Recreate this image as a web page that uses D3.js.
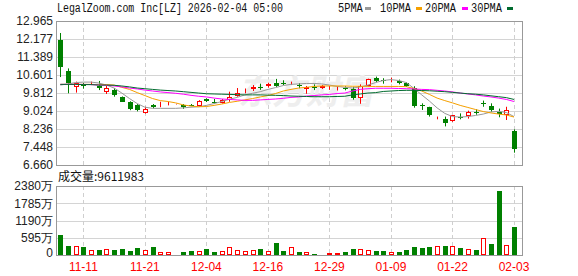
<!DOCTYPE html>
<html>
<head>
<meta charset="utf-8">
<script src="https://cdn.jsdelivr.net/npm/d3@7"></script>
<style>
  body { margin: 0; background: #fff; }
  svg { display: block; }
  .ax { font-family: "Liberation Sans", Arial, sans-serif; font-size: 12px; fill: #222; }
  .dt { font-family: "Liberation Sans", Arial, sans-serif; font-size: 12px; fill: #ff0000; }
  .mono { font-family: "Liberation Mono", monospace; font-size: 12px; fill: #111; }
</style>
</head>
<body>
<div id="chart"></div>
<script>
// --------------------------------------
//  Data
// --------------------------------------

const dates = ["11-06","11-07","11-10","11-11","11-12","11-13","11-14","11-17","11-18","11-19",
  "11-20","11-21","11-24","11-25","11-26","11-28","12-01","12-02","12-03","12-04",
  "12-05","12-08","12-09","12-10","12-11","12-12","12-15","12-16","12-17","12-18",
  "12-19","12-22","12-23","12-24","12-26","12-29","12-30","12-31","01-02","01-05",
  "01-06","01-07","01-08","01-09","01-12","01-13","01-14","01-15","01-16","01-20",
  "01-21","01-22","01-23","01-26","01-27","01-28","01-29","01-30","02-02","02-03"];

const open  = [12.13,10.78,10.06,10.16,10.19,10.12,9.87,9.94,9.65,9.42,
  9.29,8.95,9.27,9.27,9.35,9.32,9.27,9.30,9.24,9.54,
  9.43,9.39,9.51,9.68,9.90,9.99,10.09,10.11,10.24,10.24,
  10.19,10.18,9.97,10.09,10.02,9.99,10.02,10.05,10.00,9.58,
  10.12,10.48,10.38,10.38,10.34,10.24,10.05,9.27,9.20,8.675,
  8.67,8.57,8.78,8.81,8.98,9.36,9.26,8.98,8.86,8.16];
const close = [10.95,10.26,10.24,10.12,10.27,10.02,10.05,9.73,9.43,9.11,
  9.07,9.11,9.19,9.33,9.36,9.33,9.19,9.27,9.48,9.45,
  9.42,9.49,9.62,9.80,9.91,10.09,10.08,10.19,10.13,10.19,
  10.24,10.16,10.08,10.08,10.11,10.05,10.06,9.97,9.58,10.13,
  10.43,10.34,10.37,10.40,10.24,10.13,9.23,9.26,8.85,8.69,
  8.49,8.84,8.72,8.98,8.92,9.36,9.07,8.89,9.07,7.36];
const high  = [12.44,10.89,10.31,10.26,10.31,10.34,10.12,10.02,9.66,9.45,
  9.33,9.21,9.33,9.43,9.42,9.34,9.33,9.33,9.50,9.58,
  9.55,9.55,9.87,10.03,10.01,10.16,10.22,10.26,10.43,10.37,
  10.31,10.25,10.12,10.19,10.16,10.12,10.12,10.11,10.08,10.19,
  10.44,10.53,10.46,10.48,10.40,10.28,10.11,9.36,9.21,8.78,
  8.78,8.85,8.92,9.04,9.10,9.48,9.36,9.13,9.21,8.22];
const low   = [10.51,9.80,9.83,10.00,10.16,9.94,9.77,9.65,9.42,9.06,
  9.01,8.91,9.14,9.19,9.27,9.31,9.12,9.24,9.21,9.42,
  9.35,9.35,9.43,9.65,9.80,9.90,9.95,10.05,10.08,10.16,
  10.16,10.02,9.78,9.94,9.99,9.95,9.92,9.93,9.52,9.34,
  10.10,10.29,10.22,10.28,10.19,10.08,9.17,9.07,8.78,8.66,
  8.35,8.55,8.66,8.69,8.86,9.21,8.99,8.75,8.63,7.20];
const volume = [6800000,3100000,3000000,2760000,1720000,1720000,2070000,1720000,2070000,1380000,
  2410000,1720000,2640000,920000,1030000,230000,1030000,1380000,1380000,2070000,
  1030000,1380000,2640000,1610000,1380000,1610000,2070000,1380000,4140000,1380000,
  2640000,1030000,1030000,340000,340000,690000,690000,1030000,2070000,2070000,
  1610000,1380000,1380000,920000,1030000,1720000,2760000,2410000,2760000,3100000,
  3100000,3100000,2410000,2070000,1720000,5860000,3790000,22080000,3450000,9611983];

const ma5  = [10.16,10.21,10.27,10.29,10.29,10.25,10.16,10.03,9.81,9.57,
  9.35,9.19,9.14,9.14,9.14,9.14,9.16,9.19,9.21,9.27,
  9.35,9.44,9.54,9.62,9.73,9.80,9.87,9.97,10.05,10.14,
  10.19,10.21,10.23,10.23,10.21,10.16,10.10,10.06,10.03,10.08,
  10.16,10.27,10.36,10.40,10.36,10.27,10.01,9.73,9.46,9.16,
  8.92,8.78,8.76,8.78,8.83,8.89,8.98,9.01,8.96,8.78];
const ma10 = [10.19,10.19,10.19,10.19,10.19,10.18,10.18,10.16,10.06,9.97,
  9.83,9.70,9.57,9.48,9.44,9.38,9.29,9.24,9.21,9.22,
  9.27,9.33,9.40,9.45,9.51,9.57,9.64,9.70,9.79,9.90,
  9.97,10.03,10.06,10.10,10.12,10.12,10.12,10.12,10.11,10.11,
  10.10,10.10,10.10,10.10,10.10,10.09,10.01,9.90,9.75,9.59,
  9.48,9.38,9.27,9.18,9.09,9.00,8.94,8.89,8.85,8.76];
const ma20 = [10.19,10.19,10.19,10.19,10.18,10.16,10.15,10.12,10.08,10.03,
  9.99,9.94,9.90,9.86,9.83,9.80,9.76,9.71,9.67,9.64,
  9.59,9.55,9.53,9.51,9.49,9.49,9.51,9.53,9.55,9.58,
  9.62,9.64,9.68,9.70,9.73,9.75,9.79,9.81,9.90,9.97,
  10.00,10.02,10.02,10.02,10.01,10.00,9.99,9.97,9.96,9.93,
  9.90,9.86,9.81,9.77,9.73,9.68,9.64,9.59,9.53,9.44];
const ma30 = [10.19,10.19,10.19,10.18,10.18,10.16,10.16,10.15,10.12,10.08,
  10.03,10.00,9.97,9.94,9.92,9.90,9.87,9.84,9.81,9.78,
  9.77,9.76,9.75,9.74,9.73,9.73,9.73,9.72,9.71,9.70,
  9.68,9.67,9.66,9.65,9.65,9.65,9.66,9.67,9.73,9.77,
  9.81,9.83,9.88,9.90,9.92,9.93,9.93,9.92,9.91,9.89,
  9.87,9.84,9.81,9.78,9.76,9.73,9.69,9.65,9.61,9.53];

const priceTicks = [12.965, 12.177, 11.389, 10.601, 9.812, 9.024, 8.236, 7.448, 6.660];
const volTicks = [0, 595, 1190, 1785, 2380];      // 万
const dateTicks = ["11-11","11-21","12-04","12-16","12-29","01-09","01-22","02-03"];
const maNames = ["5PMA", "10PMA", "20PMA", "30PMA"];

// --------------------------------------
//  Canvas
// --------------------------------------

const width = 578, height = 276;
const left = 56, right = 522;
const pTop = 21, pBottom = 165;
const vTop = 186, vBottom = 255;

const UP = "#ff0000", DOWN = "#008000";
const maColors = ["#999999", "#f5a000", "#ff00ff", "#006b2e"];

const svg = d3.select("#chart")
  .append("svg")
    .attr("width", width)
    .attr("height", height);

// --------------------------------------
//  Scales
// --------------------------------------

const x = d3.scalePoint()
  .domain(dates)
  .range([60.3, 514]);

const y = d3.scaleLinear()
  .domain([6.660, 12.965])
  .range([pBottom, pTop]);

const yv = d3.scaleLinear()
  .domain([0, 23800000])
  .range([vBottom, vTop]);

// --------------------------------------
//  Grid and frames
// --------------------------------------

function panel(top, bottom, yTicks, scale) {
  const g = svg.append("g");
  g.selectAll(".h")
    .data(yTicks)
    .join("line")
      .attr("x1", left).attr("x2", right)
      .attr("y1", d => Math.round(scale(d)) + 0.5)
      .attr("y2", d => Math.round(scale(d)) + 0.5)
      .attr("stroke", "#d4d4d4");
  g.selectAll(".v")
    .data(dateTicks)
    .join("line")
      .attr("x1", d => Math.round(x(d)) + 0.5)
      .attr("x2", d => Math.round(x(d)) + 0.5)
      .attr("y1", top).attr("y2", bottom)
      .attr("stroke", "#cfcfcf")
      .attr("stroke-dasharray", "4,3");
  g.append("rect")
    .attr("x", left + 0.5).attr("y", top + 0.5)
    .attr("width", right - left).attr("height", bottom - top)
    .attr("fill", "none")
    .attr("stroke", "#999");
}

panel(pTop, pBottom, priceTicks, y);
panel(vTop, vBottom, volTicks.map(d => d * 10000), yv);

// watermark
svg.append("text")
  .attr("x", 240).attr("y", 104)
  .attr("transform", "skewX(-12) translate(20,0)")
  .attr("font-family", "Noto Sans CJK SC")
  .attr("font-weight", "bold")
  .attr("font-size", 34)
  .attr("fill", "#eeeeee")
  .text("东方财富");

// --------------------------------------
//  Axes labels
// --------------------------------------

svg.append("g")
  .selectAll("text")
  .data(priceTicks)
  .join("text")
    .attr("class", "ax")
    .attr("x", 53)
    .attr("y", d => y(d))
    .attr("dy", "0.36em")
    .attr("text-anchor", "end")
    .text(d => d3.format(".3f")(d));

svg.append("g")
  .selectAll("text")
  .data(volTicks)
  .join("text")
    .attr("class", "ax")
    .attr("x", 53)
    .attr("y", d => Math.min(yv(d * 10000), 253))
    .attr("dy", "0.36em")
    .attr("text-anchor", "end")
    .text(d => d === 0 ? "0" : d + "万");

svg.append("g")
  .selectAll("text")
  .data(dateTicks)
  .join("text")
    .attr("class", "dt")
    .attr("x", d => x(d))
    .attr("y", 271)
    .attr("text-anchor", "middle")
    .text(d => d);

// --------------------------------------
//  Candles
// --------------------------------------

const idx = d3.range(dates.length);
const isUp = i => close[i] > open[i];
const volUp = i => close[i] !== open[i] ? close[i] > open[i] : close[i] >= close[i - 1];

const candles = svg.append("g");
idx.forEach(i => {
  const cx = Math.round(x(dates[i]));
  const c = isUp(i) ? UP : DOWN;
  candles.append("line")
    .attr("x1", cx + 0.5).attr("x2", cx + 0.5)
    .attr("y1", y(high[i])).attr("y2", y(low[i]))
    .attr("stroke", c);
  const top = Math.round(y(Math.max(open[i], close[i])));
  const bot = Math.max(Math.round(y(Math.min(open[i], close[i]))), top + 1);
  if (isUp(i)) {
    candles.append("rect")
      .attr("x", cx - 1.5).attr("y", top + 0.5)
      .attr("width", 4).attr("height", Math.max(bot - top - 1, 0))
      .attr("fill", "#fff").attr("stroke", c);
  } else {
    candles.append("rect")
      .attr("x", cx - 2).attr("y", top)
      .attr("width", 5).attr("height", bot - top)
      .attr("fill", c);
  }
});

// --------------------------------------
//  Moving averages
// --------------------------------------

const line = d3.line()
  .x((d, i) => x(dates[i]))
  .y(d => y(d));

[ma5, ma10, ma20, ma30].forEach((s, k) => {
  svg.append("path")
    .attr("d", line(s))
    .attr("fill", "none")
    .attr("stroke", maColors[k])
    .attr("stroke-width", 1);
});

// --------------------------------------
//  Volume
// --------------------------------------

const vol = svg.append("g");
idx.forEach(i => {
  const cx = Math.round(x(dates[i]));
  const top = Math.round(yv(volume[i]));
  if (volUp(i)) {
    vol.append("rect")
      .attr("x", cx - 1.5).attr("y", top + 0.5)
      .attr("width", 4).attr("height", Math.max(vBottom - top - 1, 0))
      .attr("fill", "#fff").attr("stroke", UP);
  } else {
    vol.append("rect")
      .attr("x", cx - 2).attr("y", top)
      .attr("width", 5).attr("height", vBottom - top)
      .attr("fill", DOWN);
  }
});

// --------------------------------------
//  Titles and legend
// --------------------------------------

svg.append("text")
  .attr("class", "mono")
  .attr("x", 57).attr("y", 12)
  .attr("textLength", 226)
  .attr("lengthAdjust", "spacingAndGlyphs")
  .text("LegalZoom.com Inc[LZ] 2026-02-04 05:00");

svg.append("text")
  .attr("x", 58).attr("y", 181)
  .attr("font-family", "Noto Sans CJK SC, sans-serif")
  .attr("font-size", 12)
  .attr("fill", "#111")
  .text("成交量:" + volume[volume.length - 1]);

const legendX = [338, 380, 425, 471];
const dashX = [365, 416, 462, 507];
const legend = svg.append("g");
maNames.forEach((n, k) => {
  legend.append("text")
    .attr("class", "mono")
    .attr("x", legendX[k]).attr("y", 12)
    .attr("textLength", n.length * 6.2)
    .attr("lengthAdjust", "spacingAndGlyphs")
    .text(n);
  legend.append("rect")
    .attr("x", dashX[k]).attr("y", 7)
    .attr("width", 6).attr("height", 3)
    .attr("fill", maColors[k]);
});
</script>
</body>
</html>
